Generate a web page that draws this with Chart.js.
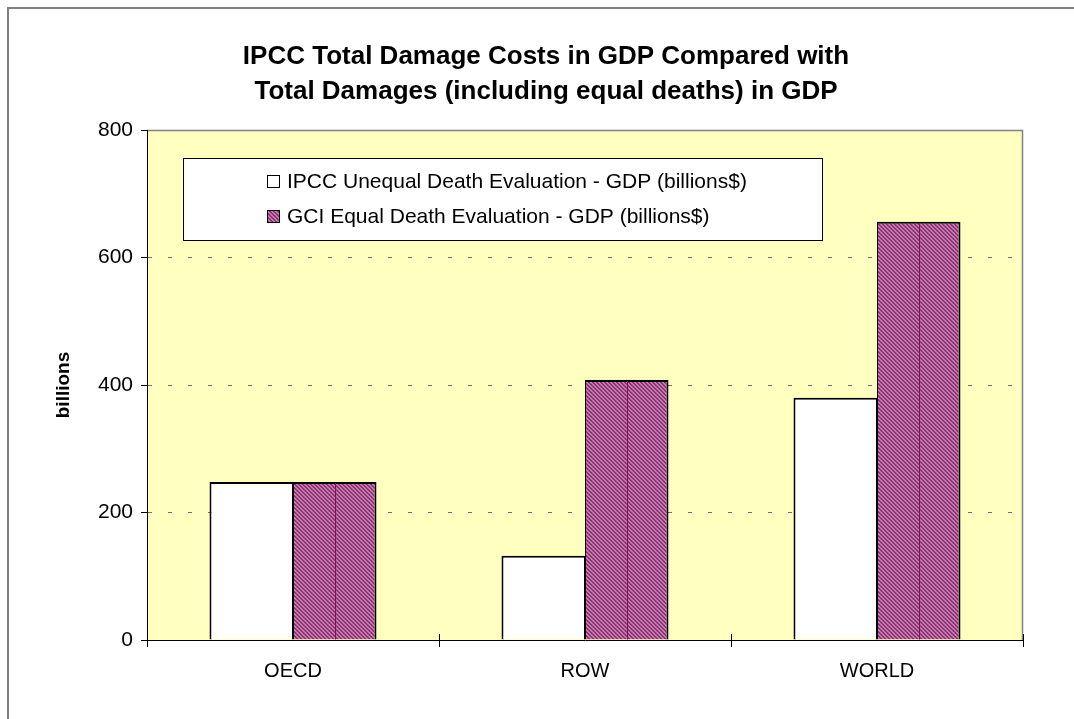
<!DOCTYPE html>
<html>
<head>
<meta charset="utf-8">
<script src="https://cdn.jsdelivr.net/npm/chart.js@4.4.0/dist/chart.umd.min.js"></script>
<style>
  html, body { margin: 0; padding: 0; background: #ffffff; }
  #wrap { position: relative; width: 1074px; height: 719px; }
</style>
</head>
<body>
<div id="wrap"><canvas id="c"></canvas></div>
<script>
const categories = ['OECD', 'ROW', 'WORLD'];
const ipccValues = [248, 132, 380];
const gciValues = [248, 408, 656];
const seriesLabels = ['IPCC Unequal Death Evaluation - GDP (billions$)', 'GCI Equal Death Evaluation - GDP (billions$)'];
const titleLines = ['IPCC Total Damage Costs in GDP Compared with', 'Total Damages (including equal deaths) in GDP'];
const yAxisTitle = 'billions';
const yTicks = { min: 0, max: 800, step: 200 };

const FONT = "'Liberation Sans', Arial, sans-serif";

function makePattern() {
  const p = document.createElement('canvas');
  p.width = 4; p.height = 4;
  const g = p.getContext('2d');
  g.fillStyle = '#8c3270';
  g.fillRect(0, 0, 4, 4);
  g.fillStyle = '#c47cb0';
  for (let y = 0; y < 4; y++) {
    for (let x = 0; x < 4; x++) {
      const d = ((x - y) % 4 + 4) % 4;
      if (d === 0 || d === 1) g.fillRect(x, y, 1, 1);
    }
  }
  return document.getElementById('c').getContext('2d').createPattern(p, 'repeat');
}
const purplePattern = makePattern();

const framePlugin = {
  id: 'frame',
  beforeDraw(chart) {
    const { ctx, chartArea: a } = chart;
    ctx.save();
    ctx.fillStyle = '#ffffff';
    ctx.fillRect(0, 0, chart.width, chart.height);
    ctx.strokeStyle = '#808080';
    ctx.lineWidth = 2;
    ctx.beginPath();
    ctx.moveTo(8, chart.height + 5);
    ctx.lineTo(8, 8);
    ctx.lineTo(chart.width + 5, 8);
    ctx.stroke();
    ctx.fillStyle = '#ffffc0';
    ctx.fillRect(a.left, a.top, a.right - a.left, a.bottom - a.top);
    ctx.strokeStyle = '#808080';
    ctx.lineWidth = 1.5;
    ctx.beginPath();
    ctx.moveTo(a.left, a.top + 0.5);
    ctx.lineTo(a.right - 0.5, a.top + 0.5);
    ctx.lineTo(a.right - 0.5, a.bottom);
    ctx.stroke();
    ctx.fillStyle = '#000';
    ctx.font = 'bold 26px ' + FONT;
    ctx.textAlign = 'center';
    ctx.textBaseline = 'middle';
    ctx.fillText(titleLines[0], 546, 57);
    ctx.fillText(titleLines[1], 546, 92);
    ctx.restore();
  },
  afterDatasetsDraw(chart) {
    const { ctx } = chart;
    const meta = chart.getDatasetMeta(1);
    ctx.save();
    ctx.strokeStyle = '#7a1458';
    ctx.lineWidth = 1;
    meta.data.forEach(el => {
      const x = Math.round(el.x) + 0.5;
      ctx.beginPath();
      ctx.moveTo(x, el.y + 1);
      ctx.lineTo(x, el.base);
      ctx.stroke();
    });
    // x-axis ticks crossing the axis line
    const xs = chart.scales.x;
    ctx.strokeStyle = '#000';
    for (let i = 0; i <= chart.data.labels.length; i++) {
      const px = Math.round(xs.getPixelForValue(i - 0.5)) + 0.5;
      ctx.beginPath();
      ctx.moveTo(px, xs.top - 6);
      ctx.lineTo(px, xs.top);
      ctx.stroke();
    }
    ctx.restore();
  },
  afterDraw(chart) {
    const { ctx } = chart;
    ctx.save();
    const bx = 183, by = 158, bw = 639, bh = 82;
    ctx.fillStyle = '#ffffff';
    ctx.fillRect(bx, by, bw, bh);
    ctx.strokeStyle = '#000';
    ctx.lineWidth = 1;
    ctx.strokeRect(bx + 0.5, by + 0.5, bw, bh);
    const rows = [181, 216];
    chart.data.datasets.forEach((ds, i) => {
      const cy = rows[i];
      ctx.fillStyle = ds.backgroundColor;
      ctx.fillRect(267, cy - 6, 13, 13);
      ctx.strokeStyle = '#000';
      ctx.strokeRect(267.5, cy - 5.5, 12, 12);
      ctx.fillStyle = '#000';
      ctx.font = '21px ' + FONT;
      ctx.textAlign = 'left';
      ctx.textBaseline = 'middle';
      ctx.fillText(ds.label, 287, cy + 1);
    });
    ctx.restore();
  }
};

new Chart(document.getElementById('c'), {
  type: 'bar',
  data: {
    labels: categories,
    datasets: [
      { label: seriesLabels[0], data: ipccValues, backgroundColor: '#ffffff', borderColor: '#000000',
        borderWidth: { top: 2, left: 2, right: 1, bottom: 0 } },
      { label: seriesLabels[1], data: gciValues, backgroundColor: purplePattern, borderColor: '#000000',
        borderWidth: { top: 2, left: 1, right: 2, bottom: 0 } }
    ]
  },
  options: {
    responsive: true,
    maintainAspectRatio: false,
    animation: false,
    datasets: { bar: { categoryPercentage: 0.572, barPercentage: 1.0 } },
    layout: { padding: { left: 40, top: 130, right: 51, bottom: 0 } },
    plugins: { legend: { display: false }, title: { display: false }, tooltip: { enabled: false } },
    scales: {
      x: {
        afterFit(s) { s.height = 79; },
        grid: { display: true, drawOnChartArea: false, drawTicks: true, tickLength: 7, tickColor: '#000', offset: true },
        border: { color: '#000', width: 1 },
        ticks: { color: '#000', font: { family: FONT, size: 20 }, padding: 12, maxRotation: 0 }
      },
      y: {
        min: yTicks.min, max: yTicks.max,
        afterFit(s) { s.width = 107; },
        ticks: { stepSize: yTicks.step, color: '#000', font: { family: FONT, size: 21 }, padding: 8 },
        grid: {
          color: (c) => (c.tick && (c.tick.value === 0 || c.tick.value === 800)) ? 'rgba(0,0,0,0)' : '#707070',
          lineWidth: 1, tickLength: 6, tickColor: '#000', tickBorderDash: []
        },
        border: { color: '#000', width: 1, dash: [4, 16] },
        title: { display: true, text: yAxisTitle, color: '#000', font: { family: FONT, size: 19, weight: 'bold' }, padding: { top: 12, bottom: 0 } }
      }
    }
  },
  plugins: [framePlugin]
});
</script>
</body>
</html>
